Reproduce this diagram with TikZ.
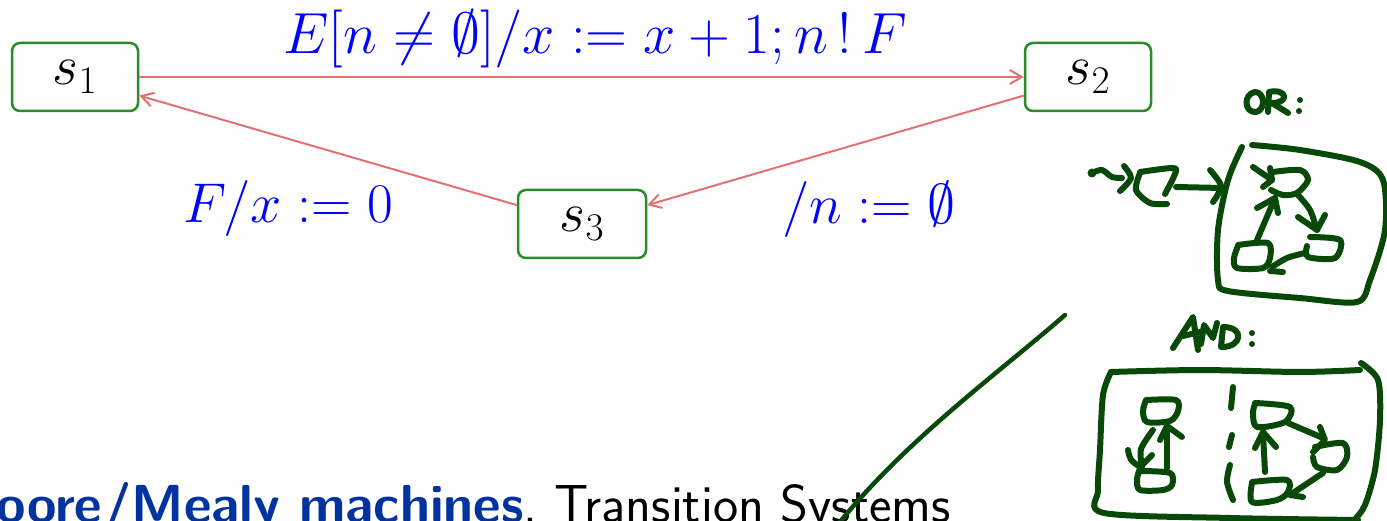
\RequirePackage{fix-cm}
\documentclass[tikz,border=0pt]{standalone}
\usepackage{xcolor}
\usepackage{tikz}
\usetikzlibrary{arrows.meta, positioning, calc}
\definecolor{stategreen}{RGB}{40, 140, 40}
\definecolor{edgered}{RGB}{228, 112, 112}
\definecolor{labelblue}{RGB}{0, 0, 255}
\definecolor{structblue}{RGB}{0, 51, 160}
\definecolor{inkgreen}{RGB}{8, 72, 8}

\begin{document}
\begin{tikzpicture}[
        x=1pt, y=-1pt,
        state/.style={rectangle, draw=stategreen, line width=2.5pt, rounded corners=8pt, minimum width=126pt, minimum height=68pt, inner sep=0pt, font=\fontsize{56}{60}\selectfont},
        trans/.style={-{Straight Barb[length=12pt, width=14pt, line width=2pt]}, draw=edgered, line width=2pt},
        lbl/.style={anchor=base, inner sep=0pt, text=labelblue, font=\fontsize{56}{60}\selectfont},
        ink/.style={draw=inkgreen, line width=6pt, line cap=round, line join=round},
    ]
        \useasboundingbox (0,0) rectangle (1387,521);
        \clip (0,0) rectangle (1387,521);

        % states
        \node[state] (s1) at (75,77) {$s_1$};
        \node[state] (s2) at (1088,77) {$s_2$};
        \node[state, minimum width=128pt] (s3) at (582,224) {$s_3$};

        \draw[trans] (s1) -- (s2);
        \draw[trans] (s2) -- (s3);
        \draw[trans] (s3) -- (s1);

        \node[lbl, font=\fontsize{58}{62}\selectfont] (l12) at (595,54) {$E[n \neq \emptyset]/x := x+1; n\,!\,F$};
        \node[lbl] (l31) at (288,223) {$F/x := 0$};
        \node[lbl] (l23) at (869,224) {$/n := \emptyset$};

        % slide text
        \node[anchor=base east, inner sep=0pt, font=\sffamily\fontsize{53.5}{58}\selectfont] (txt) at (951,522)
            {\textbf{\color{structblue}Moore/Mealy machines}, Transition Systems};

        % ink: OR sketch
        \draw[ink] (1255,92) .. controls (1243,94) and (1244,113) .. (1256,112) .. controls (1266,110) and (1265,92) .. (1255,92);
        \draw[ink] (1268,112) -- (1269,92) .. controls (1287,88) and (1290,103) .. (1272,103) -- (1288,113);
        \fill[inkgreen] (1300,100) circle (3) (1299,111) circle (3);
        \fill[inkgreen] (1092,173) circle (4.5);
        \draw[ink] plot[smooth] coordinates {(1092,173) (1102,170) (1112,177) (1122,178)};
        \draw[ink] plot[smooth] coordinates {(1124,166) (1131,178) (1120,191)};
        \draw[ink] plot[smooth] coordinates {(1140,172) (1173,168) (1175,174) (1165,194)};
        \draw[ink] plot[smooth] coordinates {(1167,204) (1150,203) (1136,190) (1140,173)};
        \draw[ink] (1176,187) -- (1222,188);
        \draw[ink] plot[smooth] coordinates {(1210,170) (1221,186) (1213,202)};
        \draw[ink] plot[smooth] coordinates {(1242,147) (1228,180) (1218,230) (1218,280) (1228,291) (1300,298) (1357,302) (1370,280) (1385,230) (1383,180) (1360,162) (1300,150) (1252,145)};
        \draw[ink] plot[smooth] coordinates {(1273,172) (1300,170) (1308,180) (1297,193) (1283,195) (1271,190)};
        \draw[ink] (1253,167) -- (1272,180);
        \draw[ink] (1270,168) -- (1272,180) -- (1263,187);
        \draw[ink] (1257,240) -- (1275,198);
        \draw[ink] (1257,208) -- (1275,198) -- (1278,213);
        \draw[ink] plot[smooth] coordinates {(1298,195) (1310,210) (1317,230)};
        \draw[ink] (1298,217) -- (1317,230) -- (1325,215);
        \draw[ink] plot[smooth] coordinates {(1238,245) (1268,243) (1270,258) (1263,268) (1237,268) (1234,258) (1238,246)};
        \draw[ink] plot[smooth] coordinates {(1310,237) (1340,240) (1335,258) (1308,257) (1307,246)};
        \draw[ink] plot[smooth] coordinates {(1305,253) (1287,258) (1272,267)};
        \draw[ink] (1270,271) -- (1283,272);

        % ink: AND sketch
        \draw[ink] (1173,348) -- (1193,317) -- (1198,350);
        \draw[ink] (1183,336) -- (1200,332);
        \draw[ink] (1201,344) -- (1204,325) -- (1213,338) -- (1217,323);
        \draw[ink] (1221,347) -- (1223,327) .. controls (1245,327) and (1242,347) .. (1222,347);
        \fill[inkgreen] (1252,333) circle (3) (1252,344) circle (3);
        \draw[ink] plot[smooth] coordinates {(1111,372) (1200,370) (1300,372) (1360,370)};
        \draw[ink] plot[smooth] coordinates {(1111,372) (1103,395) (1100,450) (1098,490) (1104,513) (1230,518) (1358,520)};
        \draw[ink] plot[smooth] coordinates {(1361,363) (1378,380) (1380,420) (1375,470) (1365,505) (1356,518)};
        \draw[ink] (1233,387) -- (1231,408);
        \draw[ink] (1232,435) -- (1229,447);
        \draw[ink] plot[smooth] coordinates {(1230,465) (1227,482) (1233,500)};
        \draw[ink] plot[smooth] coordinates {(1147,400) (1176,400) (1178,411) (1170,421) (1147,422) (1143,411) (1146,400)};
        \draw[ink] (1167,468) -- (1167,427);
        \draw[ink] (1160,440) -- (1167,426) -- (1182,437);
        \draw[ink] plot[smooth] coordinates {(1153,430) (1141,449) (1142,467)};
        \draw[ink] (1128,450) .. controls (1130,460) .. (1140,467) -- (1152,455);
        \draw[ink] plot[smooth] coordinates {(1139,471) (1170,473) (1172,485) (1163,490) (1140,490) (1137,480) (1139,471)};
        \draw[ink] plot[smooth] coordinates {(1255,403) (1290,407) (1285,422) (1257,427) (1253,413) (1255,404)};
        \draw[ink] plot[smooth] coordinates {(1315,447) (1343,443) (1347,457) (1337,470) (1317,467) (1313,457)};
        \draw[ink] plot[smooth] coordinates {(1252,482) (1287,480) (1288,492) (1277,500) (1252,502) (1252,483)};
        \draw[ink] (1288,423) -- (1323,438);
        \draw[ink] (1320,427) -- (1325,440) -- (1313,452);
        \draw[ink] (1323,473) -- (1293,493);
        \draw[ink] (1290,495) -- (1303,497);
        \draw[ink] (1265,472) -- (1263,433);
        \draw[ink] (1255,448) -- (1263,432) -- (1276,447);

        % ink: long stroke
        \draw[draw=inkgreen, line width=4.5pt, line cap=round] (1065,315) .. controls (1000,372) and (905,440) .. (835,528);
    \end{tikzpicture}
\end{document}
